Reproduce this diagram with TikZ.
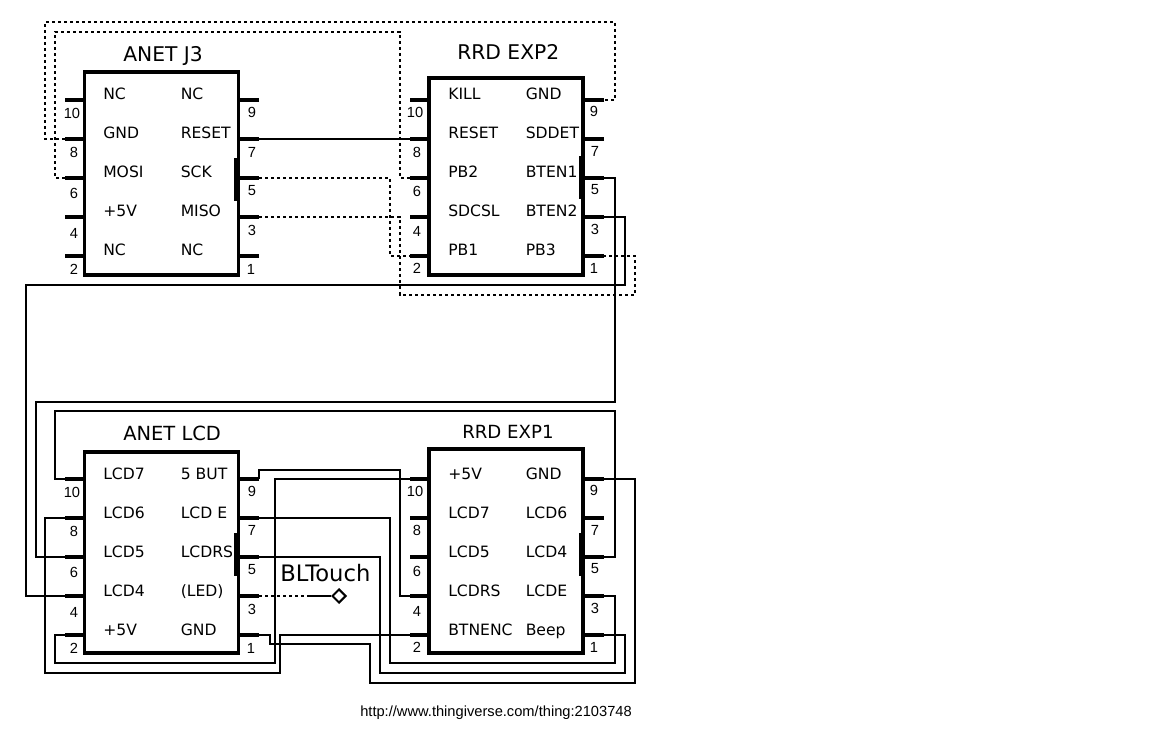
\documentclass[tikz,border=0pt]{standalone}
\usepackage{fontspec}
\setmainfont{DejaVu Sans}
\newfontfamily\arialfont{Liberation Sans}
\usetikzlibrary{positioning,shapes.geometric}

\tikzset{
  boitier/.style={draw,line width=2.5pt,inner sep=0pt,minimum width=115.5pt},
  barre/.style={line width=3pt},
  patte/.style={line width=2.6pt},
  fil/.style={line width=1.1pt},
  filpt/.style={line width=1.1pt,dash pattern=on 2.6pt off 1.9pt},
  titre/.style={anchor=base west,inner sep=0pt,font=\fontsize{14.6}{16}\selectfont},
  etiq/.style={anchor=base west,inner sep=0pt,font=\fontsize{11.7}{13}\selectfont},
  numero/.style={inner sep=0pt,font=\arialfont\fontsize{11}{12}\selectfont}
}

\begin{document}
\begin{tikzpicture}[x=0.75pt,y=-0.75pt]
    \useasboundingbox (0,0) rectangle (1152,741);

    % Connecteurs
    \node[boitier,minimum height=152.25pt] (j3) at (161.25,173.5) {};
    \node[boitier,minimum height=147.75pt] (exp2) at (506,176.5) {};
    \node[boitier,minimum height=150.75pt] (lcd) at (161.25,552.5) {};
    \node[boitier,minimum height=153pt] (exp1) at (506,551) {};

    \node[titre,font=\fontsize{15.2}{16}\selectfont] (j3titre) at (123,61.5) {ANET J3};
    \node[titre,font=\fontsize{15.2}{18}\selectfont] (exp2titre) at (457,60) {RRD EXP2};
    \node[titre] (lcdtitre) at (123,440) {ANET LCD};
    \node[titre,font=\fontsize{13.6}{16}\selectfont] (exp1titre) at (462,438) {RRD EXP1};

    % Pattes
    \foreach \c/\g/\d/\h in {j3/65/259/100,exp2/410/604/100,lcd/65/259/479,exp1/410/604/479}{
      \foreach \p/\r in {10/0,8/1,6/2,4/3,2/4}{
        \coordinate (\c p\p) at (\g,{\h+39*\r});
        \draw[patte] (\c p\p) -- (\c p\p -| \c.west);
      }
      \foreach \p/\r in {9/0,7/1,5/2,3/3,1/4}{
        \coordinate (\c p\p) at (\d,{\h+39*\r});
        \draw[patte] (\c p\p) -- (\c p\p -| \c.east);
      }
    }
    \draw[barre] (236,158) -- (236,201);
    \draw[barre] (581,156) -- (581,199);
    \draw[barre] (236,533) -- (236,576);
    \draw[barre] (581,533) -- (581,576);

    % Noms des broches
    \foreach \lab/\r in {NC/10,GND/8,MOSI/6,+5V/4,NC/2}
      \node[etiq] (j3t\r) at (103,{100+39*(10-\r)/2}) {\lab};
    \foreach \lab/\r in {NC/9,RESET/7,SCK/5,MISO/3,NC/1}
      \node[etiq] (j3t\r) at (180.5,{100+39*(9-\r)/2}) {\lab};
    \foreach \lab/\r in {KILL/10,RESET/8,PB2/6,SDCSL/4,PB1/2}
      \node[etiq] (exp2t\r) at (448,{100+39*(10-\r)/2}) {\lab};
    \foreach \lab/\r in {GND/9,SDDET/7,BTEN1/5,BTEN2/3,PB3/1}
      \node[etiq] (exp2t\r) at (525.5,{100+39*(9-\r)/2}) {\lab};
    \foreach \lab/\r in {LCD7/10,LCD6/8,LCD5/6,LCD4/4,+5V/2}
      \node[etiq] (lcdt\r) at (103,{479+39*(10-\r)/2}) {\lab};
    \foreach \lab/\r in {5 BUT/9,LCD E/7,LCDRS/5,{(LED)}/3,GND/1}
      \node[etiq] (lcdt\r) at (180.5,{479+39*(9-\r)/2}) {\lab};
    \foreach \lab/\r in {+5V/10,LCD7/8,LCD5/6,LCDRS/4,BTNENC/2}
      \node[etiq] (exp1t\r) at (448,{479+39*(10-\r)/2}) {\lab};
    \foreach \lab/\r in {GND/9,LCD6/7,LCD4/5,LCDE/3,Beep/1}
      \node[etiq] (exp1t\r) at (525.5,{479+39*(9-\r)/2}) {\lab};

    % Numeros
    \foreach \p/\x/\y in {10/72/113,8/74/152,6/74/193,4/74/233,2/74/269,9/252/112,7/252/152,5/252/191,3/252/230,1/251/269}
      \node[numero] (j3n\p) at (\x,\y) {\p};
    \foreach \p/\x/\y in {10/415/112,8/417/152,6/417/191,4/417/231,2/417/268,9/594/111,7/595/151,5/595/190,3/595/229,1/594/268}
      \node[numero] (exp2n\p) at (\x,\y) {\p};
    \foreach \p/\x/\y in {10/72/492,8/74/531,6/74/572,4/74/612,2/74/648,9/252/491,7/252/530,5/252/570,3/252/609,1/251/648}
      \node[numero] (lcdn\p) at (\x,\y) {\p};
    \foreach \p/\x/\y in {10/415/491,8/417/530,6/417/571,4/417/611,2/417/647,9/594/490,7/595/530,5/595/569,3/595/608,1/594/647}
      \node[numero] (exp1n\p) at (\x,\y) {\p};

    % Fils en pointilles
    \draw[filpt] (j3p8) -| (45,22) -- (615,22) |- (exp2p9);
    \draw[filpt] (j3p6) -| (55,32) -- (400,32) |- (exp2p6);
    \draw[filpt] (j3p5) -| (390,217) |- (exp2p2);
    \draw[filpt] (j3p3) -| (400,295) -- (635,295) |- (exp2p1);

    % Fils
    \draw[fil] (j3p7) -- (exp2p8);
    \draw[fil] (exp2p5) -| (615,402) -- (36,402) |- (lcdp6);
    \draw[fil] (exp2p3) -| (625,285) -- (26,285) |- (lcdp4);
    \draw[fil] (exp1p5) -| (615,411) -- (55,411) |- (lcdp10);
    \draw[fil] (lcdp9) -- (259,470) -- (400,470) |- (exp1p4);
    \draw[fil] (lcdp8) -| (45,673) -- (280,673) |- (exp1p2);
    \draw[fil] (lcdp2) -| (55,663) -- (275,663) |- (exp1p10);
    \draw[fil] (lcdp7) -| (390,663) -- (615,663) |- (exp1p3);
    \draw[fil] (lcdp5) -| (380,673) -- (625,673) |- (exp1p1);
    \draw[fil] (lcdp1) -| (270,644) -- (370,644) |- (635,683) |- (exp1p9);

    % BLTouch
    \node[titre,font=\fontsize{17}{19}\selectfont] (bltouch) at (280,581) {BLTouch};
    \node[draw,diamond,line width=1.5pt,inner sep=0pt,minimum width=10.5pt,minimum height=10.5pt] (sonde) at (339,596) {};
    \coordinate (bltfin) at (310,596);
    \draw[filpt] (lcdp3) -- (bltfin);
    \draw[fil] (bltfin) -- (sonde);

    \node[anchor=base west,inner sep=0pt,font=\arialfont\fontsize{11}{12}\selectfont] (url) at (360,716) {http://www.thingiverse.com/thing:2103748};
\end{tikzpicture}
\end{document}
